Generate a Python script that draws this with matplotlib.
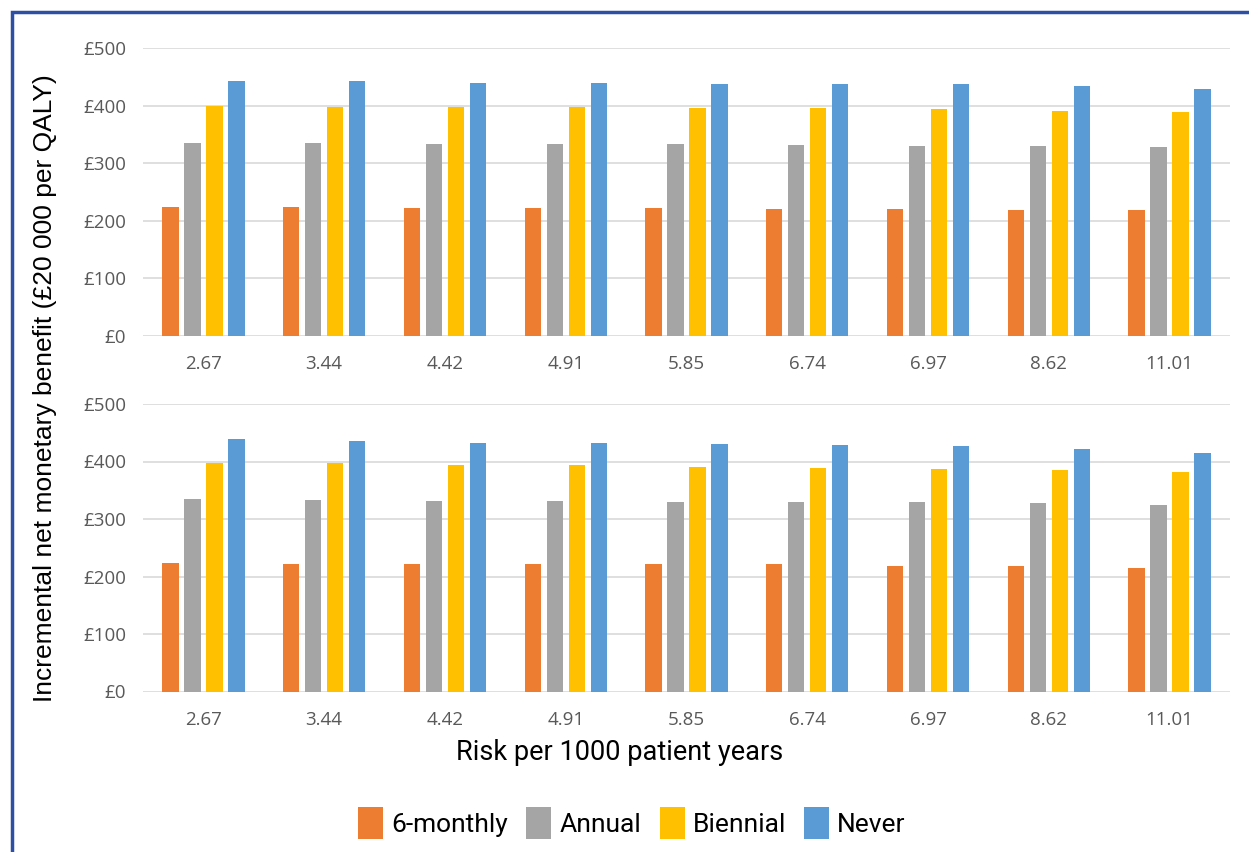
import matplotlib
matplotlib.use("Agg")
import matplotlib.pyplot as plt
import numpy as np
from matplotlib.patches import Rectangle, Patch

categories = ["2.67", "3.44", "4.42", "4.91", "5.85", "6.74", "6.97", "8.62", "11.01"]
series_names = ["6-monthly", "Annual", "Biennial", "Never"]

top_six_monthly = [224, 224, 222, 222, 222, 221, 220, 218, 218]
top_annual = [335, 335, 333, 333, 333, 331, 330, 330, 328]
top_biennial = [400, 397, 397, 397, 395, 395, 394, 391, 389]
top_never = [442, 442, 440, 440, 438, 437, 437, 434, 428]

bot_six_monthly = [224, 221, 221, 221, 221, 221, 218, 218, 215]
bot_annual = [335, 333, 332, 332, 330, 330, 329, 327, 324]
bot_biennial = [397, 397, 394, 394, 391, 388, 387, 385, 382]
bot_never = [439, 436, 433, 433, 430, 428, 427, 422, 415]

yticks = [0, 100, 200, 300, 400, 500]
ytick_labels = ["£0", "£100", "£200", "£300", "£400", "£500"]

colors = ["#ED7D31", "#A5A5A5", "#FFC000", "#5B9BD5"]

fig = plt.figure(figsize=(12.49, 8.52), dpi=100)

# blue frame
fig.patches.append(Rectangle((12 / 1249, -0.05), 1.2, 1 - 12 / 852 + 0.05,
                             transform=fig.transFigure, fill=False,
                             edgecolor="#2E4FA3", linewidth=2.5, zorder=0))

left = 143 / 1249
width = (1230 - 143) / 1249
ax_top = fig.add_axes([left, 1 - 336 / 852, width, (336 - 48) / 852])
ax_bot = fig.add_axes([left, 1 - 691.5 / 852, width, (691.5 - 404) / 852])

x = np.arange(len(categories))
step = 0.182
bw = 0.135
offsets = (np.arange(4) - 1.5) * step

for ax, data in [(ax_top, [top_six_monthly, top_annual, top_biennial, top_never]),
                 (ax_bot, [bot_six_monthly, bot_annual, bot_biennial, bot_never])]:
    for i, (vals, c) in enumerate(zip(data, colors)):
        ax.bar(x + offsets[i], vals, width=bw, color=c, zorder=3, label=series_names[i])
    ax.set_ylim(0, 500)
    ax.set_xlim(-0.5, len(categories) - 0.5)
    ax.set_yticks(yticks)
    ax.set_yticklabels(ytick_labels, fontsize=13.5, color="#595959", family="Open Sans")
    ax.set_xticks(x)
    ax.set_xticklabels(categories, fontsize=13.5, color="#595959", family="Open Sans")
    ax.tick_params(axis="y", length=0, pad=12)
    ax.tick_params(axis="x", length=0, pad=14)
    ax.grid(axis="y", color="#D9D9D9", linewidth=1.2, zorder=0)
    for s in ax.spines.values():
        s.set_visible(False)

fig.text(45 / 1249, 1 - 388 / 852, "Incremental net monetary benefit (£20 000 per QALY)",
         rotation=90, ha="center", va="center", fontsize=19, family="Liberation Sans",
         color="black")
fig.text(620 / 1249, 1 - 753 / 852, "Risk per 1000 patient years", ha="center",
         va="center", fontsize=19.5, family="Roboto", color="black")

handles = [Patch(facecolor=c, edgecolor="none") for c in colors]
fig.legend(handles, series_names, loc="center", bbox_to_anchor=(632 / 1249, 1 - 823 / 852),
           ncol=4, frameon=False, prop={"family": "Roboto", "size": 19},
           handlelength=0.95, handleheight=1.45, handletextpad=0.3, columnspacing=0.7)

fig.savefig("out.png", dpi=100, facecolor="white")
